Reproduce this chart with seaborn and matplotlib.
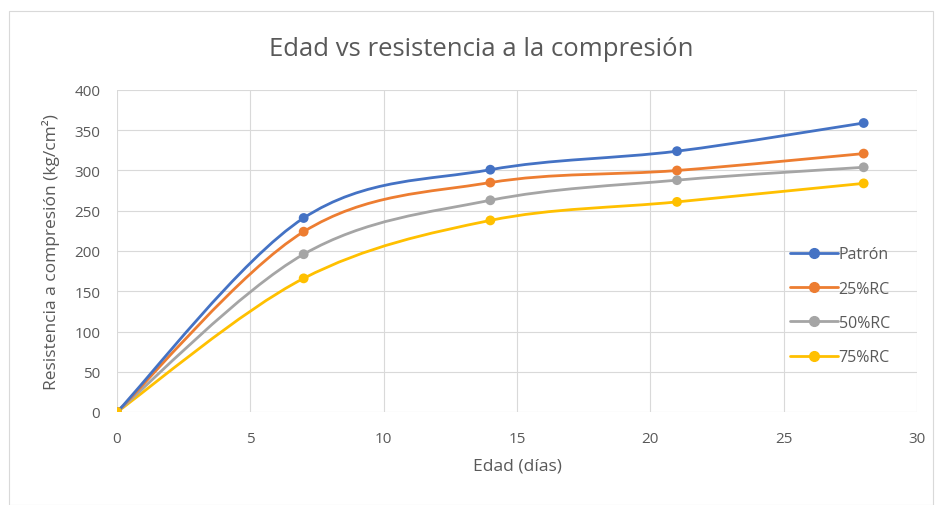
import numpy as np
import pandas as pd
import matplotlib
matplotlib.use("Agg")
import matplotlib.pyplot as plt
from matplotlib.path import Path
from matplotlib.patches import PathPatch, Rectangle
from matplotlib.lines import Line2D
import seaborn as sns

# ---- data ----
edad = [0, 7, 14, 21, 28]
patron = [0, 241, 301, 324, 359]
rc25 = [0, 224, 285, 300, 321]
rc50 = [0, 196, 263, 288, 304]
rc75 = [0, 166, 238, 261, 284]
series_names = ["Patrón", "25%RC", "50%RC", "75%RC"]
colors = ["#4472C4", "#ED7D31", "#A5A5A5", "#FFC000"]
x_ticks = [0, 5, 10, 15, 20, 25, 30]
y_ticks = [0, 50, 100, 150, 200, 250, 300, 350, 400]

values = [patron, rc25, rc50, rc75]
df = pd.DataFrame({
    "Edad": edad * len(values),
    "Resistencia": sum(values, []),
    "Serie": sum([[n] * len(edad) for n in series_names], []),
})

sns.set_theme(style="white")
plt.rcParams["font.family"] = ["Open Sans", "DejaVu Sans"]

fig = plt.figure(figsize=(9.37, 5.06), dpi=100)
fig.patches.append(Rectangle((9 / 937, 0), 924 / 937, 1 - 12 / 506, transform=fig.transFigure,
                             fill=False, edgecolor="#D9D9D9", linewidth=0.8))
ax = fig.add_axes([117 / 937, 1 - 413 / 506, 800 / 937, 322 / 506])

grid_c = "#D9D9D9"
text_c = "#595959"


def smooth_path(xs, ys):
    # Excel-like Catmull-Rom Bezier smoothing, control points in data coordinates
    pts = list(zip(xs, ys))
    n = len(pts)
    verts = [pts[0]]
    codes = [Path.MOVETO]
    for i in range(n - 1):
        p0 = pts[i - 1] if i > 0 else pts[i]
        p1 = pts[i]
        p2 = pts[i + 1]
        p3 = pts[i + 2] if i + 2 < n else pts[i + 1]
        c1 = (p1[0] + (p2[0] - p0[0]) / 6, p1[1] + (p2[1] - p0[1]) / 6)
        c2 = (p2[0] - (p3[0] - p1[0]) / 6, p2[1] - (p3[1] - p1[1]) / 6)
        verts += [c1, c2, p2]
        codes += [Path.CURVE4] * 3
    return Path(verts, codes)


for name, col in list(zip(series_names, colors))[::-1]:
    sub = df[df["Serie"] == name]
    ax.add_patch(PathPatch(smooth_path(sub["Edad"].tolist(), sub["Resistencia"].tolist()),
                           facecolor="none", edgecolor=col, linewidth=2.0,
                           capstyle="round", joinstyle="round", zorder=3))

sns.scatterplot(data=df, x="Edad", y="Resistencia", hue="Serie", hue_order=series_names,
                palette=colors, s=50, edgecolor="none", legend=False, ax=ax, zorder=4)

ax.set_xlim(0, 30)
ax.set_ylim(0, 400)
ax.set_xticks(x_ticks)
ax.set_yticks(y_ticks)
ax.grid(True, color=grid_c, linewidth=0.8)
ax.set_axisbelow(True)
for s in ax.spines.values():
    s.set_visible(False)
ax.tick_params(axis="both", colors=text_c, labelsize=11, length=0)
ax.tick_params(axis="x", pad=14)
ax.tick_params(axis="y", pad=12)

ax.set_xlabel("Edad (días)", color=text_c, fontsize=12.5, labelpad=8)
ax.set_ylabel("Resistencia a compresión (kg/cm²)", color=text_c, fontsize=12.5, labelpad=10)
fig.text(481 / 937, 1 - 56 / 506, "Edad vs resistencia a la compresión", ha="center", va="baseline",
         fontsize=18.5, color=text_c)

handles = [Line2D([0], [0], color=c, lw=2.0, marker="o", markersize=7) for c in colors]
leg = ax.legend(handles, series_names, loc="center left", bbox_to_anchor=(0.841, 0.33),
                frameon=False, fontsize=11.5, labelcolor=text_c, handlelength=3.0,
                handletextpad=0.05, labelspacing=1.15, borderpad=0, borderaxespad=0)

fig.savefig("out.png", dpi=100)
